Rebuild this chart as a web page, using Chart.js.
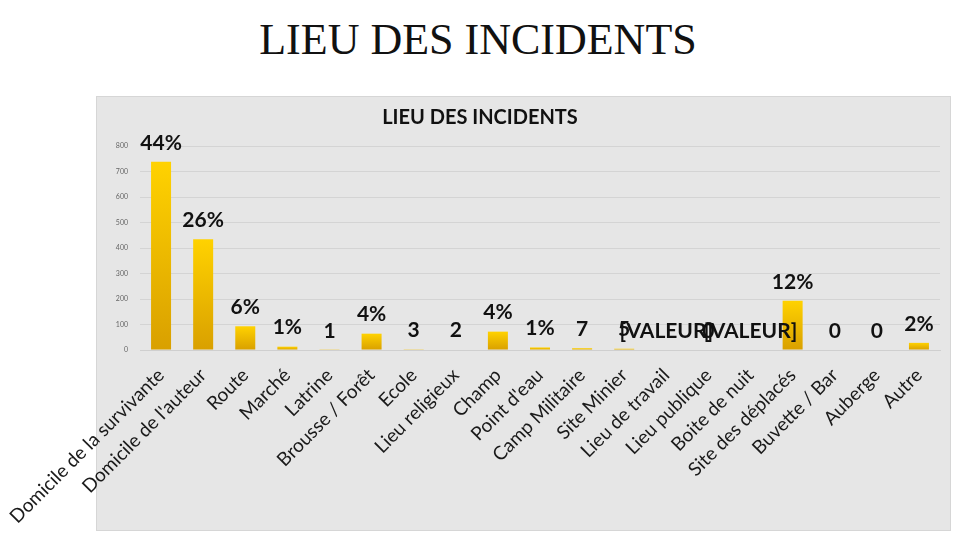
<!DOCTYPE html>
<html>
<head>
<meta charset="utf-8">
<script src="https://cdn.jsdelivr.net/npm/chart.js@4.4.1/dist/chart.umd.min.js"></script>
<style>
  body { margin: 0; width: 960px; height: 540px; background: #fff; position: relative; overflow: hidden; }
  h1 { position: absolute; left: 0; top: 14px; width: 956px; margin: 0; text-align: center;
       font: 44px "Liberation Serif", serif; color: #111; font-weight: normal; }
  #box { position: absolute; left: 96px; top: 96px; width: 853px; height: 433px;
         background: #e6e6e6; border: 1px solid #d6d6d6; }
  #wrap { position: absolute; left: 0; top: 0; width: 960px; height: 540px; }
</style>
</head>
<body>
<h1>LIEU DES INCIDENTS</h1>
<div id="box"></div>
<div id="wrap"><canvas id="chart" width="960" height="540"></canvas></div>
<script>
const categories = ['Domicile de la survivante', "Domicile de l'auteur", 'Route', 'Marché', 'Latrine',
    'Brousse / Forêt', 'Ecole', 'Lieu religieux', 'Champ', "Point d'eau", 'Camp Militaire',
    'Site Minier', 'Lieu de travail', 'Lieu publique', 'Boite de nuit', 'Site des déplacés',
    'Buvette / Bar', 'Auberge', 'Autre'];
const values = [738, 434, 93, 13, 1, 64, 3, 2, 72, 10, 7, 5, 0, 0, 0, 193, 0, 0, 28];
const barLabels = ['44%', '26%', '6%', '1%', '1', '4%', '3', '2', '4%', '1%', '7',
    '5', '[VALEUR]', '0', '[VALEUR]', '12%', '0', '0', '2%'];
const yTicks = [0, 100, 200, 300, 400, 500, 600, 700, 800];

const labelPlugin = {
    id: 'barText',
    afterDatasetsDraw(chart) {
        const ctx = chart.ctx;
        const meta = chart.getDatasetMeta(0);
        ctx.save();
        ctx.font = 'bold 21px Lato';
        ctx.fillStyle = '#111';
        ctx.textAlign = 'center';
        ctx.textBaseline = 'middle';
        meta.data.forEach((bar, i) => {
            ctx.fillText(barLabels[i], bar.x, bar.y - 19);
        });
        ctx.restore();
    }
};

function barFill(context) {
    const chart = context.chart;
    if (!chart.chartArea) return '#f5c000';
    const y = chart.scales.y;
    const v = context.parsed ? context.parsed.y : 0;
    const top = y.getPixelForValue(v);
    const base = y.getPixelForValue(0);
    if (base - top < 1) return '#f5c000';
    const g = chart.ctx.createLinearGradient(0, top, 0, base);
    g.addColorStop(0, '#ffd200');
    g.addColorStop(1, '#d9a000');
    return g;
}

new Chart(document.getElementById('chart'), {
    type: 'bar',
    data: {
        labels: categories,
        datasets: [{
            data: values,
            backgroundColor: barFill,
            barPercentage: 0.5,
            categoryPercentage: 0.95
        }]
    },
    plugins: [labelPlugin],
    options: {
        responsive: false,
        animation: false,
        devicePixelRatio: 1,
        layout: {
            padding: { left: 20, right: 20, top: 106, bottom: 10 }
        },
        plugins: {
            legend: { display: false },
            tooltip: { enabled: false },
            title: {
                display: true,
                text: 'LIEU DES INCIDENTS',
                color: '#111',
                font: { family: 'Lato', size: 20, weight: 'bold' },
                padding: { top: 0, bottom: 16 }
            }
        },
        scales: {
            y: {
                min: 0,
                max: 800,
                afterFit(scale) { scale.width = 120; },
                afterBuildTicks(scale) { scale.ticks = yTicks.map(v => ({ value: v })); },
                border: { display: false },
                grid: { color: '#d4d4d4', drawTicks: false },
                ticks: { color: '#666', font: { family: 'Lato', size: 7 }, padding: 12 }
            },
            x: {
                afterFit(scale) {
                    scale.height = 180;
                    scale.paddingLeft = 0;
                    scale.paddingRight = 0;
                },
                border: { color: '#cfcfcf' },
                grid: { display: false },
                ticks: {
                    color: '#1a1a1a',
                    font: { family: 'Lato', size: 19 },
                    minRotation: 45,
                    maxRotation: 45,
                    autoSkip: false,
                    padding: 6
                }
            }
        }
    }
});
</script>
</body>
</html>
